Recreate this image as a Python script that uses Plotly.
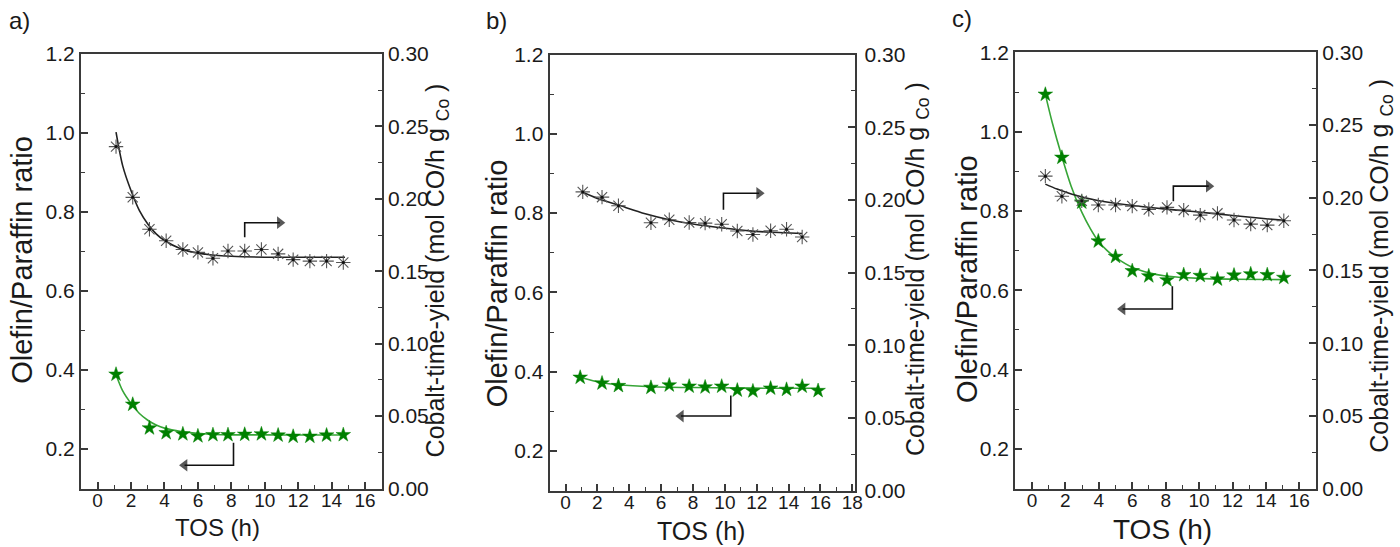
import plotly.graph_objects as go

# ---------------- data ----------------
# panel a
a_x = [1.1, 2.1, 3.1, 4.1, 5.1, 6.0, 6.9, 7.8, 8.8, 9.8, 10.8, 11.7, 12.7, 13.7, 14.7]
a_cty = [0.236, 0.201, 0.179, 0.171, 0.165, 0.163, 0.159, 0.164, 0.164, 0.165, 0.162, 0.158, 0.157, 0.157, 0.156]
a_op = [0.389, 0.313, 0.253, 0.241, 0.238, 0.233, 0.236, 0.236, 0.237, 0.238, 0.235, 0.232, 0.232, 0.235, 0.236]
a_cty_fit_x = [1.1, 1.5, 2.0, 2.5, 3.0, 3.5, 4.0, 5.0, 6.0, 7.0, 8.0, 10.0, 12.0, 14.8]
a_cty_fit_y = [0.246, 0.2227, 0.2055, 0.1918, 0.1826, 0.1758, 0.1712, 0.1654, 0.1625, 0.1610, 0.1603, 0.1597, 0.1596, 0.1596]
a_op_fit_x = [1.1, 1.5, 2.0, 2.5, 3.0, 3.5, 4.0, 5.0, 6.0, 7.0, 8.0, 10.0, 12.0, 14.9]
a_op_fit_y = [0.388, 0.347, 0.315, 0.290, 0.273, 0.261, 0.253, 0.2445, 0.240, 0.237, 0.236, 0.236, 0.2355, 0.2355]

# panel b
b_cty_x = [1.08, 2.29, 3.32, 5.36, 6.51, 7.76, 8.76, 9.80, 10.78, 11.76, 12.87, 13.87, 14.85]
b_cty = [0.2055, 0.2019, 0.1960, 0.1843, 0.1864, 0.1845, 0.1840, 0.1833, 0.1786, 0.1762, 0.1788, 0.1798, 0.1745]
b_op_x = [0.92, 2.29, 3.32, 5.36, 6.51, 7.76, 8.76, 9.80, 10.78, 11.76, 12.87, 13.87, 14.85, 15.85]
b_op = [0.3855, 0.371, 0.3645, 0.360, 0.366, 0.363, 0.361, 0.363, 0.353, 0.351, 0.358, 0.355, 0.363, 0.352]
b_cty_fit_x = [1.08, 2.0, 3.27, 5.0, 6.51, 8.0, 9.74, 11.72, 13.0, 14.85]
b_cty_fit_y = [0.2052, 0.2010, 0.1966, 0.1905, 0.1864, 0.1834, 0.1808, 0.1785, 0.1777, 0.1769]
b_op_fit_x = [0.9, 2.3, 3.3, 5.4, 8.0, 10.7, 13.0, 15.9]
b_op_fit_y = [0.386, 0.372, 0.367, 0.362, 0.360, 0.359, 0.358, 0.358]

# panel c
c_x = [0.80, 1.79, 2.98, 3.97, 5.00, 6.00, 6.99, 8.08, 9.08, 10.07, 11.10, 12.09, 13.09, 14.08, 15.07]
c_op = [1.094, 0.935, 0.822, 0.724, 0.685, 0.649, 0.636, 0.626, 0.639, 0.637, 0.628, 0.638, 0.641, 0.639, 0.632]
c_cty = [0.2149, 0.2011, 0.1979, 0.1950, 0.1950, 0.1943, 0.1920, 0.1934, 0.1915, 0.1881, 0.1893, 0.1847, 0.1819, 0.1812, 0.1842]
c_cty_fit_x = [0.8, 1.5, 2.4, 4.0, 5.8, 8.0, 9.8, 12.0, 14.0, 15.1]
c_cty_fit_y = [0.2094, 0.2060, 0.2025, 0.1980, 0.1950, 0.1922, 0.1904, 0.1878, 0.1856, 0.1845]
c_op_fit_x = [0.8, 1.2, 1.79, 2.35, 2.98, 3.5, 3.97, 4.5, 5.0, 6.0, 7.0, 8.0, 10.0, 12.0, 15.07]
c_op_fit_y = [1.094, 1.025, 0.937, 0.862, 0.797, 0.755, 0.724, 0.700, 0.683, 0.658, 0.644, 0.636, 0.630, 0.628, 0.627]

panel_labels = ["a)", "b)", "c)"]
x_label = "TOS (h)"
left_label = "Olefin/Paraffin ratio"
right_label = "Cobalt-time-yield (mol CO/h g <sub>Co</sub> )"

# axis-pointer arrows: (vertical x, vertical y start, corner y, arrow-head centre x)
arrows_cty = [(8.8, 0.1735, 0.1835, 10.9), (9.91, 0.1932, 0.2046, 12.15), (8.46, 0.1977, 0.2080, 10.58)]
arrows_op = [(8.13, 0.216, 0.159, 5.2), (10.37, 0.340, 0.288, 7.24), (8.40, 0.610, 0.553, 5.42)]

# ---------------- styling ----------------
W, H = 1400, 547
FONT = "Liberation Sans, Arial, sans-serif"
TXT = "#1a1a1a"
AX = "#3a3a3a"
GREEN_M = "rgb(0,128,0)"
GREEN_L = "rgb(55,165,55)"


def X(px):
    return px / 0.995


def Y(py):
    return (py - 9.9) / 0.963


# pixel boxes: (left, right, top, bottom)
boxes = [(81, 382, 52, 489), (550, 856, 52.7, 491), (1016, 1317, 50.5, 489)]
xranges = [[-1, 17], [-1, 18.19], [-1, 17]]
xmax_tick = [16, 18, 16]
right_standoff = [0, 3, 0]
YTICK = 21
XTICK = 19

fig = go.Figure()

panels = [
    (a_x, a_cty, a_x, a_op, a_cty_fit_x, a_cty_fit_y, a_op_fit_x, a_op_fit_y),
    (b_cty_x, b_cty, b_op_x, b_op, b_cty_fit_x, b_cty_fit_y, b_op_fit_x, b_op_fit_y),
    (c_x, c_cty, c_x, c_op, c_cty_fit_x, c_cty_fit_y, c_op_fit_x, c_op_fit_y),
]

layout = dict(
    width=W, height=H, margin=dict(l=0, r=0, t=0, b=0),
    paper_bgcolor="white", plot_bgcolor="white", showlegend=False,
    font=dict(family=FONT, color=TXT),
)
annotations = []

for i, (cx, cy, ox, oy, cfx, cfy, ofx, ofy) in enumerate(panels):
    xa = "x" if i == 0 else f"x{i+1}"
    yl = "y" if i == 0 else f"y{2*i+1}"
    yr = f"y{2*i+2}"
    xa_key = "xaxis" if i == 0 else f"xaxis{i+1}"
    yl_key = "yaxis" if i == 0 else f"yaxis{2*i+1}"
    yr_key = f"yaxis{2*i+2}"
    l, r, t, b = boxes[i]
    dom_x = [X(l) / W, X(r) / W]
    dom_y = [1 - Y(b) / H, 1 - Y(t) / H]

    # fits
    fig.add_trace(go.Scatter(x=ofx, y=ofy, mode="lines", line=dict(color=GREEN_L, width=1.6, shape="spline", smoothing=0.8),
                             xaxis=xa, yaxis=yl, hoverinfo="skip"))
    fig.add_trace(go.Scatter(x=cfx, y=cfy, mode="lines", line=dict(color="#222", width=1.6, shape="spline", smoothing=0.8),
                             xaxis=xa, yaxis=yr, hoverinfo="skip"))
    # markers
    fig.add_trace(go.Scatter(x=ox, y=oy, mode="markers",
                             marker=dict(symbol="star", size=11, color=GREEN_M, line=dict(width=0.5, color=GREEN_M)),
                             xaxis=xa, yaxis=yl))
    fig.add_trace(go.Scatter(x=cx, y=cy, mode="markers",
                             marker=dict(symbol="asterisk-open", size=12, color="#555",
                                         line=dict(width=1.1, color="#555")),
                             xaxis=xa, yaxis=yr))
    fig.add_trace(go.Scatter(x=cx, y=cy, mode="markers",
                             marker=dict(symbol="circle", size=3, color="#111"),
                             xaxis=xa, yaxis=yr))

    # axis-pointer arrows (L-shaped line + triangular head)
    vx, vy0, vy1, hx = arrows_cty[i]
    fig.add_trace(go.Scatter(x=[vx, vx, hx], y=[vy0, vy1, vy1], mode="lines+markers",
                             line=dict(color="#111", width=1.6),
                             marker=dict(symbol="triangle-right", size=[0, 0, 11], color="#111", line=dict(width=0)),
                             xaxis=xa, yaxis=yr, hoverinfo="skip"))
    vx, vy0, vy1, hx = arrows_op[i]
    fig.add_trace(go.Scatter(x=[vx, vx, hx], y=[vy0, vy1, vy1], mode="lines+markers",
                             line=dict(color="#111", width=1.6),
                             marker=dict(symbol="triangle-left", size=[0, 0, 11], color="#111", line=dict(width=0)),
                             xaxis=xa, yaxis=yl, hoverinfo="skip"))

    layout[xa_key] = dict(
        domain=dom_x, range=xranges[i], anchor=yl,
        tickmode="array", tickvals=list(range(0, xmax_tick[i] + 1, 2)),
        ticks="inside", ticklen=7, tickwidth=1.5, tickcolor=AX, ticklabelstandoff=-6,
        minor=dict(ticks="inside", ticklen=4, tickwidth=1.2, tickcolor=AX, tickvals=list(range(1, xmax_tick[i], 2))),
        showline=True, linecolor=AX, linewidth=2, mirror=True,
        showgrid=False, zeroline=False,
        tickfont=dict(size=XTICK, family=FONT, color=TXT),
    )
    layout[yl_key] = dict(
        domain=dom_y, range=[0.1, 1.2], anchor=xa,
        tickvals=[0.2, 0.4, 0.6, 0.8, 1.0, 1.2], tickformat=".1f",
        ticks="inside", ticklen=7, tickwidth=1.5, tickcolor=AX,
        minor=dict(ticks="inside", ticklen=4, tickwidth=1.2, tickcolor=AX, tickvals=[0.3, 0.5, 0.7, 0.9, 1.1]),
        showline=True, linecolor=AX, linewidth=2,
        showgrid=False, zeroline=False,
        tickfont=dict(size=YTICK, family=FONT, color=TXT),
    )
    layout[yr_key] = dict(
        domain=dom_y, range=[0, 0.3], anchor=xa, overlaying=yl, side="right",
        tickvals=[0, 0.05, 0.10, 0.15, 0.20, 0.25, 0.30], tickformat=".2f",
        ticks="inside", ticklen=7, tickwidth=1.5, tickcolor=AX, ticklabelstandoff=right_standoff[i],
        minor=dict(ticks="inside", ticklen=4, tickwidth=1.2, tickcolor=AX, tickvals=[0.025, 0.075, 0.125, 0.175, 0.225, 0.275]),
        showline=True, linecolor=AX, linewidth=2,
        showgrid=False, zeroline=False,
        tickfont=dict(size=YTICK, family=FONT, color=TXT),
    )


def P(px, py):
    return X(px) / W, 1 - Y(py) / H


label_pos = [(20, 18), (497, 18), (963, 16)]
tos_pos = [(218, 528, 24), (702, 532, 25), (1163, 530, 28)]
left_pos = [(22, 259), (497, 283), (967, 278)]
right_pos = [(437, 270), (917, 268), (1382, 265)]

for i in range(3):
    x, y = P(*label_pos[i])
    annotations.append(dict(xref="paper", yref="paper", x=x, y=y, text=panel_labels[i], showarrow=False,
                            font=dict(size=24, family=FONT, color=TXT), xanchor="center", yanchor="middle"))
    px, py, fs = tos_pos[i]
    x, y = P(px, py)
    annotations.append(dict(xref="paper", yref="paper", x=x, y=y, text=x_label, showarrow=False,
                            font=dict(size=fs, family=FONT, color=TXT), xanchor="center", yanchor="middle"))
    x, y = P(*left_pos[i])
    annotations.append(dict(xref="paper", yref="paper", x=x, y=y, text=left_label, showarrow=False, textangle=-90,
                            font=dict(size=29, family=FONT, color=TXT), xanchor="center", yanchor="middle"))
    x, y = P(*right_pos[i])
    annotations.append(dict(xref="paper", yref="paper", x=x, y=y, text=right_label, showarrow=False, textangle=-90,
                            font=dict(size=25, family=FONT, color=TXT), xanchor="center", yanchor="middle"))

layout["annotations"] = annotations
fig.update_layout(**layout)

fig.write_html("out.html")
